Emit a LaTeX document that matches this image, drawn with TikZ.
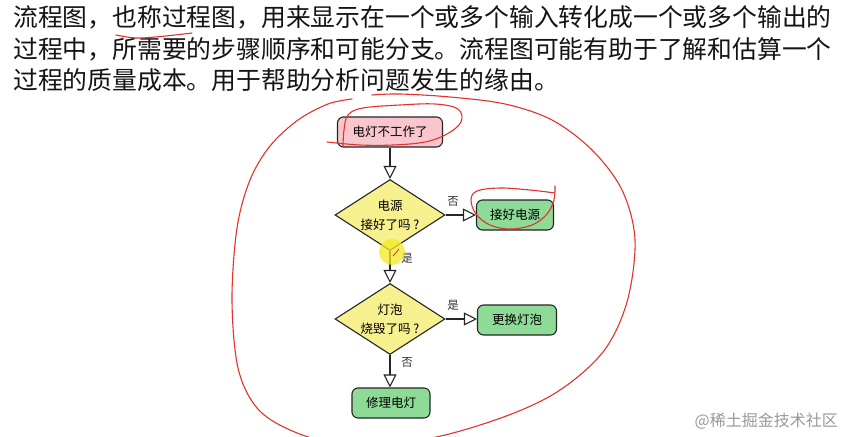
\documentclass[tikz,border=0pt]{standalone}
\usepackage{fontspec}
\setmainfont{Noto Sans CJK SC}
\usetikzlibrary{shapes.geometric,arrows.meta}
\definecolor{pinkfill}{HTML}{F8C6CC}
\definecolor{greenfill}{HTML}{8EDB98}
\definecolor{yellowfill}{HTML}{F6F08F}
\definecolor{annot}{HTML}{E2322B}
\definecolor{hilite}{HTML}{F3EA22}
\begin{document}
\begin{tikzpicture}[x=1pt,y=-1pt,
  title/.style={anchor=west, inner sep=0pt, font=\fontsize{24.8}{30}\selectfont, text=black!92},
  boxbase/.style={rectangle, rounded corners=6pt, draw=black!85, line width=1.1pt,
    minimum height=30pt, inner sep=0pt, font=\fontsize{12.5}{15}\selectfont},
  startbox/.style={boxbase, fill=pinkfill, minimum width=105pt},
  endbox/.style={boxbase, fill=greenfill, minimum width=78pt},
  dia/.style={diamond, draw=black!85, line width=1.1pt, fill=yellowfill,
    minimum width=110pt, minimum height=71pt, inner sep=0pt},
  dtext/.style={align=center, inner sep=0pt, font=\fontsize{12.5}{19}\selectfont},
  conn/.style={draw=black!85, line width=1.1pt, -{Triangle[open,length=13pt,width=13pt]}},
  lbl/.style={inner sep=0pt, font=\fontsize{11.5}{14}\selectfont, text=black!80},
  redline/.style={draw=annot, line width=1.1pt, line cap=round, line join=round}
]
\useasboundingbox (0,0) rectangle (845,436);
\fill[white] (0,0) rectangle (845,436);

% title text
\node[title] (t1) at (13,17) {流程图，也称过程图，用来显示在一个或多个输入转化成一个或多个输出的};
\node[title] (t2) at (13,49) {过程中，所需要的步骤顺序和可能分支。流程图可能有助于了解和估算一个};
\node[title] (t3) at (13,80) {过程的质量成本。用于帮助分析问题发生的缘由。};

% flowchart nodes
\node[startbox] (start) at (390,132) {电灯不工作了};
\node[dia] (d1) at (390,215) {};
\node[dtext] (d1t) at (390,215) {电源\\接好了吗 ?};
\node[endbox, minimum width=77pt] (fix) at (515,215) {接好电源};
\node[dia] (d2) at (390,319) {};
\node[dtext] (d2t) at (390,319) {灯泡\\烧毁了吗 ?};
\node[endbox, minimum width=79pt] (bulb) at (517,320) {更换灯泡};
\node[endbox] (repair) at (391,403) {修理电灯};

% connectors
\draw[conn] (start.south) -- (d1.north);
\draw[conn] (d1.east) -- (fix.west);
\draw[conn] (d1.south) -- (d2.north);
\draw[conn] (d2.east) -- (d2.east -| bulb.west);
\draw[conn] (d2.south) -- (d2.south |- repair.north);

% edge labels
\node[lbl] (l1) at (453,201) {否};
\node[lbl] (l2) at (407,258) {是};
\node[lbl] (l3) at (453,305) {是};
\node[lbl] (l4) at (407,362) {否};

% highlight of the pointer
\fill[hilite, opacity=0.75] (392,252) circle (13);
\draw[annot, line width=0.8pt] (399,249) -- (393,256);

% watermark
\node[anchor=east, inner sep=0pt, font=\fontsize{16}{18}\selectfont, text=black!40] (wm) at (838,421) {@稀土掘金技术社区};

% red hand annotations
\draw[redline] plot[smooth, tension=0.6] coordinates {(116,35) (135,38) (155,37) (175,35) (192,33)};
\draw[redline] plot[smooth, tension=0.55] coordinates {
  (352,99) (328,104) (298,120) (270,146) (250,180) (237,228) (232,300)
  (238,368) (257,408) (290,430) (335,442) (420,440) (498,419) (557,392)
  (603,352) (627,302) (635,240) (622,190) (592,150) (552,120) (505,104)
  (450,97) (400,94) (372,95)};
\draw[redline] plot[smooth, tension=0.6] coordinates {
  (327,142) (360,145) (393,145) (425,142) (447,134) (461,122) (458,109)
  (435,104) (400,105) (363,108) (348,115) (344,130) (343,147)};
\draw[redline] plot[smooth, tension=0.6] coordinates {
  (555,186) (554,200) (547,214) (532,225) (510,229) (490,225) (476,214)
  (471,200) (477,191) (500,188) (530,190) (555,193)};
\end{tikzpicture}
\end{document}
